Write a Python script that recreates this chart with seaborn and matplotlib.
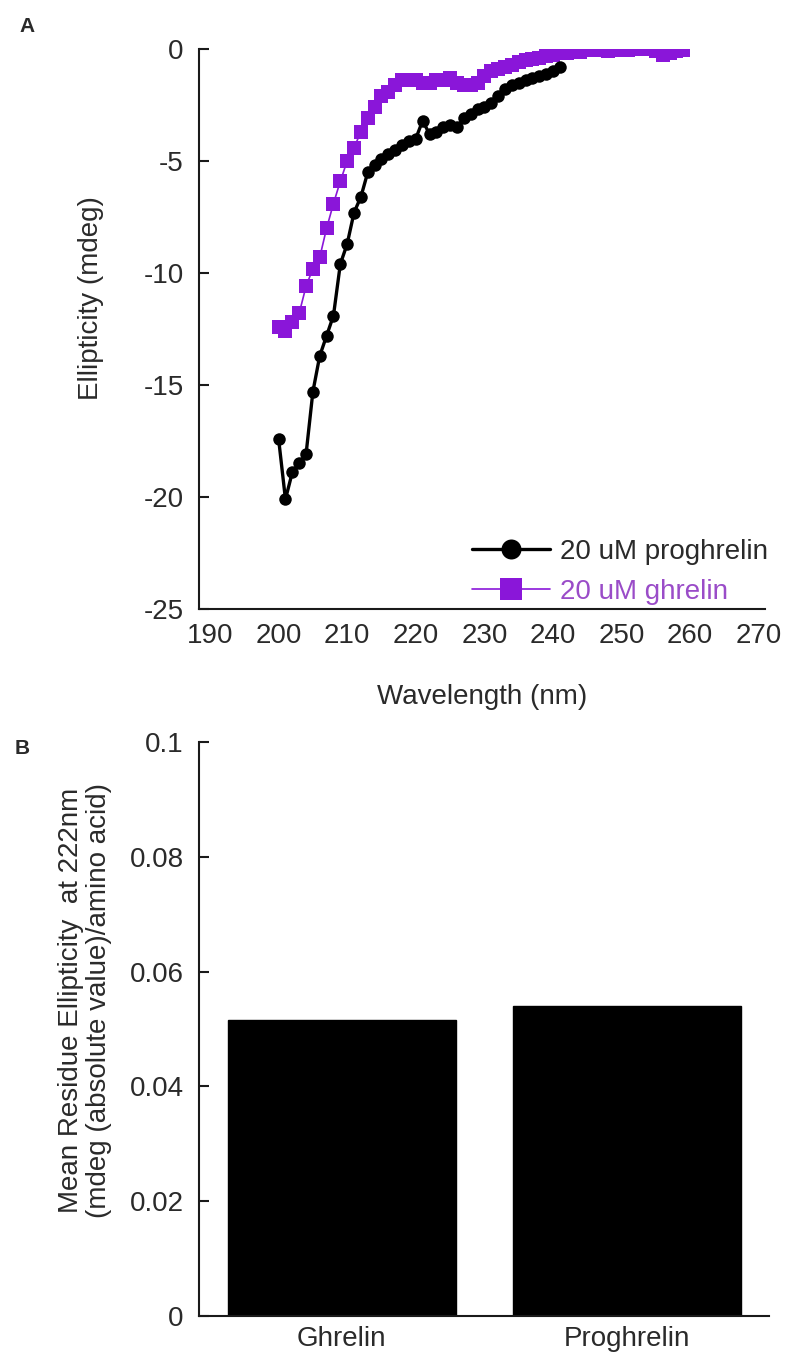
import numpy as np
import pandas as pd
import matplotlib
matplotlib.use("Agg")
import matplotlib.pyplot as plt
import seaborn as sns

# ---------------- data ----------------
proghrelin_nm = list(range(200, 242))
proghrelin_mdeg = [-17.4, -20.1, -18.9, -18.5, -18.1, -15.3, -13.7, -12.8, -11.9, -9.6,
                   -8.7, -7.3, -6.6, -5.5, -5.2, -4.9, -4.7, -4.5, -4.3, -4.1,
                   -4.0, -3.2, -3.8, -3.7, -3.5, -3.4, -3.5, -3.1, -2.9, -2.7,
                   -2.6, -2.4, -2.1, -1.8, -1.6, -1.5, -1.4, -1.3, -1.2, -1.1,
                   -1.0, -0.8]

ghrelin_nm = list(range(200, 260))
ghrelin_mdeg = [-12.4, -12.6, -12.2, -11.8, -10.6, -9.8, -9.3, -8.0, -6.9, -5.9,
                -5.0, -4.4, -3.7, -3.1, -2.6, -2.1, -1.9, -1.6, -1.4, -1.4,
                -1.4, -1.5, -1.5, -1.4, -1.4, -1.3, -1.5, -1.6, -1.6, -1.5,
                -1.2, -1.0, -0.9, -0.8, -0.7, -0.6, -0.5, -0.45, -0.4, -0.3,
                -0.25, -0.2, -0.2, -0.1, -0.15, -0.05, -0.05, 0.0, -0.1, -0.05,
                0.0, -0.05, 0.0, 0.05, 0.0, -0.1, -0.25, -0.2, -0.1, -0.05]

series_labels = ["20 uM proghrelin", "20 uM ghrelin"]

bar_categories = ["Ghrelin", "Proghrelin"]
bar_values = [0.0515, 0.0540]

xticks_A = [190, 200, 210, 220, 230, 240, 250, 260, 270]
yticks_A = [0, -5, -10, -15, -20, -25]
yticks_B = [0, 0.02, 0.04, 0.06, 0.08, 0.1]
yticklabels_B = ["0", "0.02", "0.04", "0.06", "0.08", "0.1"]

# ---------------- style ----------------
sns.set_theme(style="white")
plt.rcParams['font.family'] = ['Liberation Sans', 'DejaVu Sans']
plt.rcParams['axes.unicode_minus'] = False

TXT = "#2a2a2a"
PURPLE = "#8A16D9"
PURPLE_TXT = "#9A4CC8"
FS = 20

W, H = 790, 1353
fig = plt.figure(figsize=(W/100, H/100), dpi=100)
axA = fig.add_axes([199/W, 1-609/H, 566/W, 560/H])
axB = fig.add_axes([199/W, 1-1316/H, 570/W, 574/H])

# ---------------- panel A ----------------
dfP = pd.DataFrame({"nm": proghrelin_nm, "mdeg": proghrelin_mdeg})
dfG = pd.DataFrame({"nm": ghrelin_nm, "mdeg": ghrelin_mdeg})

sns.lineplot(data=dfG, x="nm", y="mdeg", ax=axA, color=PURPLE, marker="s",
             markersize=10, markeredgewidth=0, linewidth=1.2,
             label=series_labels[1], zorder=2)
sns.lineplot(data=dfP, x="nm", y="mdeg", ax=axA, color="black", marker="o",
             markersize=9, markeredgewidth=0, linewidth=2.4,
             label=series_labels[0], zorder=3)

axA.set_xlim(188.4, 270.9)
axA.set_ylim(-25, 0)
axA.set_xticks(xticks_A)
axA.set_yticks(yticks_A)
axA.set_xticklabels([str(v) for v in xticks_A])
axA.set_yticklabels([str(v) for v in yticks_A])
axA.set_xlabel("Wavelength (nm)", fontsize=FS, color=TXT, labelpad=25)
axA.set_ylabel("Ellipticity (mdeg)", fontsize=FS, color=TXT)
axA.yaxis.set_label_coords(-(199-104)/566, 0.555)

handles, labels = axA.get_legend_handles_labels()
order = [labels.index(series_labels[0]), labels.index(series_labels[1])]
leg = axA.legend([handles[i] for i in order], [labels[i] for i in order],
                 loc="lower right", bbox_to_anchor=(1.012, 0.0), frameon=False,
                 fontsize=FS, handlelength=2.8, handletextpad=0.35,
                 labelspacing=0.5, borderaxespad=0.0, borderpad=0.15,
                 markerscale=1.6)
leg.get_texts()[0].set_color(TXT)
leg.get_texts()[1].set_color(PURPLE_TXT)

# ---------------- panel B ----------------
dfB = pd.DataFrame({"cat": bar_categories, "val": bar_values})
sns.barplot(data=dfB, x="cat", y="val", ax=axB, color="black", width=0.8,
            saturation=1, edgecolor="black")
axB.set_xlim(-0.5, 1.5)
axB.set_ylim(0, 0.1)
axB.set_yticks(yticks_B)
axB.set_yticklabels(yticklabels_B)
axB.set_xlabel("")
axB.set_ylabel("Mean Residue Ellipticity  at 222nm\n(mdeg (absolute value)/amino acid)",
               fontsize=FS, color=TXT, linespacing=1.1)
axB.yaxis.set_label_coords(-(199-112)/570, 0.55)

for ax in (axA, axB):
    sns.despine(ax=ax)
    for s in ("left", "bottom"):
        ax.spines[s].set_color("#1a1a1a")
        ax.spines[s].set_linewidth(1.5)
    ax.tick_params(axis="y", direction="in", length=7, width=1.5, color="#1a1a1a",
                   labelsize=FS, labelcolor=TXT, pad=11, left=True)
    ax.tick_params(axis="x", length=0, labelsize=FS, labelcolor=TXT, pad=10)
    ax.grid(False)

axB.tick_params(axis="x", pad=7)

fig.text(27/W, 1-27/H, "A", fontsize=15, fontweight="bold", color=TXT,
         ha="center", va="center")
fig.text(22/W, 1-749/H, "B", fontsize=15, fontweight="bold", color=TXT,
         ha="center", va="center")

fig.savefig("out.png", dpi=100, facecolor="white")
